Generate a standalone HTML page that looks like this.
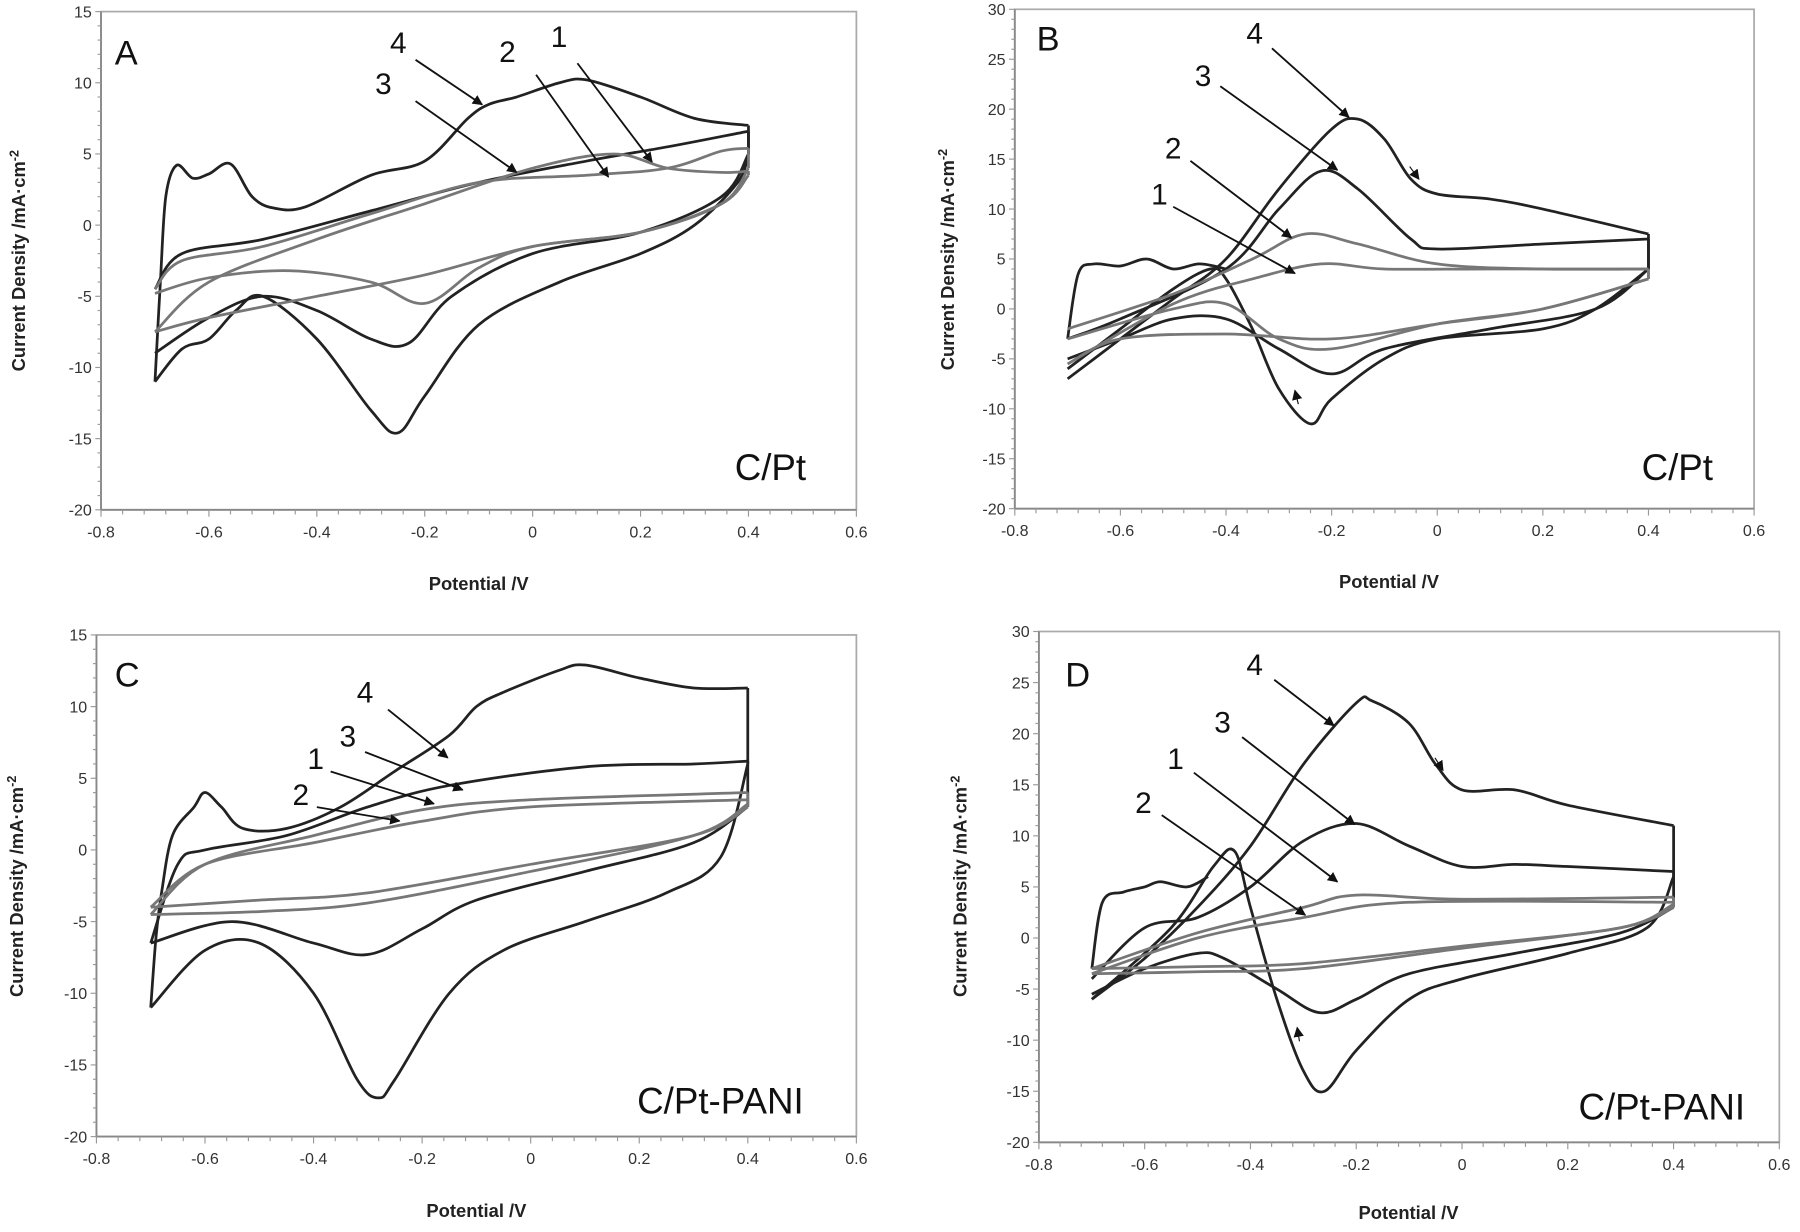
<!DOCTYPE html>
<html><head><meta charset="utf-8">
<style>
html,body{margin:0;padding:0;background:#fff;}
svg{display:block;}
text{font-family:"Liberation Sans","DejaVu Sans",sans-serif;fill:#333;}
.t{font-size:14px;}
.ax{font-size:16px;font-weight:bold;fill:#222;}
.lb{font-size:26px;fill:#111;}
.big{font-size:32px;fill:#111;}
.let{font-size:30px;fill:#111;}
</style></head>
<body>
<svg id="s" width="1800" height="1232" viewBox="0 0 1568 1073" xmlns="http://www.w3.org/2000/svg">
<defs>
<marker id="ah" viewBox="0 0 10 10" refX="9" refY="5" markerWidth="9" markerHeight="9" markerUnits="userSpaceOnUse" orient="auto"><path d="M0,0 L10,5 L0,10 z" fill="#111"/></marker>
</defs>
<g id="root"></g>

<!-- Panel A text -->
<g class="t" text-anchor="end">
<text x="80" y="15">15</text><text x="80" y="77">10</text><text x="80" y="139">5</text><text x="80" y="201">0</text><text x="80" y="263">-5</text><text x="80" y="325">-10</text><text x="80" y="387">-15</text><text x="80" y="449">-20</text>
</g>
<g class="t" text-anchor="middle">
<text x="88" y="468">-0.8</text><text x="182" y="468">-0.6</text><text x="276" y="468">-0.4</text><text x="370" y="468">-0.2</text><text x="464" y="468">0</text><text x="558" y="468">0.2</text><text x="652" y="468">0.4</text><text x="746" y="468">0.6</text>
</g>
<text class="ax" x="417" y="514" text-anchor="middle">Potential /V</text>
<text class="ax" x="22" y="227" text-anchor="middle" transform="rotate(-90 22 227)">Current Density /mA·cm<tspan dy="-6" font-size="11">-2</tspan></text>
<text class="let" x="100" y="56">A</text>
<text class="big" x="640" y="418">C/Pt</text>
<text class="lb" x="347" y="46" text-anchor="middle">4</text>
<text class="lb" x="334" y="82" text-anchor="middle">3</text>
<text class="lb" x="442" y="54" text-anchor="middle">2</text>
<text class="lb" x="487" y="41" text-anchor="middle">1</text>

<!-- Panel B text -->
<g class="t" text-anchor="end">
<text x="876" y="13">30</text><text x="876" y="56.5">25</text><text x="876" y="100">20</text><text x="876" y="143.5">15</text><text x="876" y="187">10</text><text x="876" y="230.5">5</text><text x="876" y="274">0</text><text x="876" y="317.5">-5</text><text x="876" y="361">-10</text><text x="876" y="404.5">-15</text><text x="876" y="448">-20</text>
</g>
<g class="t" text-anchor="middle">
<text x="884" y="467">-0.8</text><text x="976" y="467">-0.6</text><text x="1068" y="467">-0.4</text><text x="1160" y="467">-0.2</text><text x="1252" y="467">0</text><text x="1344" y="467">0.2</text><text x="1436" y="467">0.4</text><text x="1528" y="467">0.6</text>
</g>
<text class="ax" x="1210" y="512" text-anchor="middle">Potential /V</text>
<text class="ax" x="831" y="226" text-anchor="middle" transform="rotate(-90 831 226)">Current Density /mA·cm<tspan dy="-6" font-size="11">-2</tspan></text>
<text class="let" x="903" y="44">B</text>
<text class="big" x="1430" y="418">C/Pt</text>
<text class="lb" x="1093" y="38" text-anchor="middle">4</text>
<text class="lb" x="1048" y="75" text-anchor="middle">3</text>
<text class="lb" x="1022" y="138" text-anchor="middle">2</text>
<text class="lb" x="1010" y="178" text-anchor="middle">1</text>

<!-- Panel C text -->
<g class="t" text-anchor="end">
<text x="76" y="558">15</text><text x="76" y="620.4">10</text><text x="76" y="682.9">5</text><text x="76" y="745.3">0</text><text x="76" y="807.7">-5</text><text x="76" y="870.1">-10</text><text x="76" y="932.6">-15</text><text x="76" y="995">-20</text>
</g>
<g class="t" text-anchor="middle">
<text x="84" y="1014">-0.8</text><text x="178.6" y="1014">-0.6</text><text x="273.1" y="1014">-0.4</text><text x="367.7" y="1014">-0.2</text><text x="462.3" y="1014">0</text><text x="556.9" y="1014">0.2</text><text x="651.4" y="1014">0.4</text><text x="746" y="1014">0.6</text>
</g>
<text class="ax" x="415" y="1060" text-anchor="middle">Potential /V</text>
<text class="ax" x="20" y="772" text-anchor="middle" transform="rotate(-90 20 772)">Current Density /mA·cm<tspan dy="-6" font-size="11">-2</tspan></text>
<text class="let" x="100" y="598">C</text>
<text class="big" x="555" y="970">C/Pt-PANI</text>
<text class="lb" x="318" y="612" text-anchor="middle">4</text>
<text class="lb" x="303" y="650" text-anchor="middle">3</text>
<text class="lb" x="275" y="670" text-anchor="middle">1</text>
<text class="lb" x="262" y="701" text-anchor="middle">2</text>

<!-- Panel D text -->
<g class="t" text-anchor="end">
<text x="897" y="555">30</text><text x="897" y="599.5">25</text><text x="897" y="644">20</text><text x="897" y="688.5">15</text><text x="897" y="733">10</text><text x="897" y="777.5">5</text><text x="897" y="822">0</text><text x="897" y="866.5">-5</text><text x="897" y="911">-10</text><text x="897" y="955.5">-15</text><text x="897" y="1000">-20</text>
</g>
<g class="t" text-anchor="middle">
<text x="905" y="1019">-0.8</text><text x="997.1" y="1019">-0.6</text><text x="1089.3" y="1019">-0.4</text><text x="1181.4" y="1019">-0.2</text><text x="1273.6" y="1019">0</text><text x="1365.7" y="1019">0.2</text><text x="1457.9" y="1019">0.4</text><text x="1550" y="1019">0.6</text>
</g>
<text class="ax" x="1227" y="1062" text-anchor="middle">Potential /V</text>
<text class="ax" x="842" y="772" text-anchor="middle" transform="rotate(-90 842 772)">Current Density /mA·cm<tspan dy="-6" font-size="11">-2</tspan></text>
<text class="let" x="928" y="598">D</text>
<text class="big" x="1375" y="975">C/Pt-PANI</text>
<text class="lb" x="1093" y="588" text-anchor="middle">4</text>
<text class="lb" x="1065" y="638" text-anchor="middle">3</text>
<text class="lb" x="1024" y="670" text-anchor="middle">1</text>
<text class="lb" x="996" y="708" text-anchor="middle">2</text>
</svg>
<script>
const root=document.getElementById('root');
const NS='http://www.w3.org/2000/svg';
function el(t,a){const e=document.createElementNS(NS,t);for(const k in a)e.setAttribute(k,a[k]);root.appendChild(e);return e;}
function crSeg(pts){let d='M'+pts[0][0].toFixed(1)+','+pts[0][1].toFixed(1);
 for(let i=0;i<pts.length-1;i++){const p0=pts[Math.max(0,i-1)],p1=pts[i],p2=pts[i+1],p3=pts[Math.min(pts.length-1,i+2)];
 const c1=[p1[0]+(p2[0]-p0[0])/6,p1[1]+(p2[1]-p0[1])/6],c2=[p2[0]-(p3[0]-p1[0])/6,p2[1]-(p3[1]-p1[1])/6];
 d+=' C'+c1[0].toFixed(1)+','+c1[1].toFixed(1)+' '+c2[0].toFixed(1)+','+c2[1].toFixed(1)+' '+p2[0].toFixed(1)+','+p2[1].toFixed(1);}
 return d;}
function pathFor(data,X,Y){
 let segs=[],cur=[];
 data.forEach((q,i)=>{cur.push([X(q[0]),Y(q[1])]);
  const corner=(Math.abs(q[0]-0.4)<1e-6||Math.abs(q[0]+0.7)<1e-6)&&i>0&&i<data.length-1;
  if(corner){segs.push(cur);cur=[[X(q[0]),Y(q[1])]];}});
 segs.push(cur);
 return segs.filter(s=>s.length>1).map(crSeg).join(' ');}
function panel(P){
 const X=v=>P.x0+(v+0.8)/1.4*(P.x1-P.x0);
 const Y=v=>P.yb-(v-P.ymin)/(P.ymax-P.ymin)*(P.yb-P.yt);
 el('rect',{x:P.x0,y:P.yt,width:P.x1-P.x0,height:P.yb-P.yt,fill:'none',stroke:'#aaa','stroke-width':1.5});
 el('line',{x1:P.x0,y1:P.yt,x2:P.x0,y2:P.yb,stroke:'#888','stroke-width':1.6});
 el('line',{x1:P.x0,y1:P.yb,x2:P.x1,y2:P.yb,stroke:'#888','stroke-width':1.6});
 for(let v=P.ymin;v<=P.ymax;v+=1){const y=Y(v);const maj=(v%5===0);
  el('line',{x1:P.x0-(maj?5:3),y1:y,x2:P.x0,y2:y,stroke:'#999','stroke-width':1});}
 for(let i=0;i<=35;i++){const x=X(-0.8+i*0.04);const maj=(i%5===0);
  el('line',{x1:x,y1:P.yb,x2:x,y2:P.yb+(maj?6:4),stroke:'#999','stroke-width':1});}
 for(const c of P.curves){el('path',{d:pathFor(c.p,X,Y),fill:'none',stroke:c.g?'#777':'#222','stroke-width':2.4,'stroke-linejoin':'round'});}
 for(const a of P.arrows){el('line',{x1:a[0],y1:a[1],x2:a[2],y2:a[3],stroke:'#111','stroke-width':1.6,'marker-end':'url(#ah)'});}
 for(const m of (P.marks||[])){el('line',{x1:m[0],y1:m[1],x2:m[2],y2:m[3],stroke:'#111','stroke-width':1,'marker-end':'url(#ah)'});}
}
panel({x0:88,x1:746,yt:10,yb:444,ymin:-20,ymax:15,
 curves:[
 {p:[[-0.7,-11],[-0.69,-4],[-0.68,2],[-0.66,4.2],[-0.63,3.3],[-0.6,3.6],[-0.56,4.3],[-0.52,2],[-0.48,1.2],[-0.42,1.3],[-0.3,3.5],[-0.2,4.5],[-0.12,7.5],[-0.08,8.5],[-0.03,9],[0.05,10],[0.1,10.2],[0.2,9],[0.3,7.5],[0.4,7],[0.4,5],[0.38,3],[0.3,0],[0.2,-2],[0.05,-4],[-0.1,-7],[-0.2,-12],[-0.25,-14.6],[-0.3,-13],[-0.4,-8],[-0.5,-5],[-0.55,-6],[-0.6,-8],[-0.65,-8.7],[-0.7,-11]]},
 {p:[[-0.7,-4.5],[-0.65,-2],[-0.5,-1],[-0.3,1],[-0.1,3],[0.1,4.5],[0.25,5.5],[0.4,6.6],[0.4,5],[0.35,2],[0.2,-0.5],[0,-2],[-0.15,-5],[-0.23,-8.3],[-0.3,-8],[-0.4,-6],[-0.5,-5],[-0.6,-6.5],[-0.7,-9]]},
 {g:1,p:[[-0.7,-4.5],[-0.65,-2.5],[-0.5,-1.5],[-0.3,0.8],[-0.1,3],[0.1,3.5],[0.25,4],[0.35,5.2],[0.4,5.4],[0.4,4],[0.35,1.5],[0.2,-0.5],[0,-1.5],[-0.1,-3],[-0.2,-5.5],[-0.3,-4],[-0.45,-3.2],[-0.6,-3.7],[-0.7,-4.8]]},
 {g:1,p:[[-0.7,-7.5],[-0.6,-4],[-0.4,-1],[-0.2,1.5],[0,4],[0.15,5],[0.25,4],[0.35,3.7],[0.4,3.8],[0.4,3.5],[0.35,1.5],[0.2,-0.5],[0,-1.5],[-0.2,-3.5],[-0.4,-5],[-0.6,-6.5],[-0.7,-7.5]]}],
 arrows:[[362,52,420,91],[362,88,450,150],[467,65,530,154],[503,55,568,141]]});
panel({x0:884,x1:1528,yt:8,yb:443,ymin:-20,ymax:30,
 curves:[
 {p:[[-0.7,-7],[-0.6,-3],[-0.5,1],[-0.4,5],[-0.3,12],[-0.2,18],[-0.15,19],[-0.1,17],[-0.05,13],[0,11.5],[0.1,11],[0.2,10],[0.4,7.5],[0.4,4],[0.3,0],[0.2,-2],[0,-3],[-0.1,-5],[-0.2,-9],[-0.24,-11.5],[-0.3,-8],[-0.35,-2],[-0.4,3],[-0.43,4],[-0.5,2],[-0.6,-2],[-0.7,-6]]},
 {p:[[-0.7,-3],[-0.68,3.5],[-0.65,4.5],[-0.6,4.3],[-0.55,5],[-0.5,4],[-0.45,4.5],[-0.4,4]]},
 {p:[[-0.7,-3],[-0.6,-1],[-0.4,4],[-0.3,10],[-0.22,13.8],[-0.15,12],[-0.05,7],[0,6],[0.2,6.5],[0.4,7],[0.4,4],[0.3,0],[0.1,-2],[-0.1,-4],[-0.2,-6.5],[-0.3,-4],[-0.4,-1],[-0.5,-1],[-0.6,-3],[-0.7,-5]]},
 {g:1,p:[[-0.7,-2],[-0.5,1.5],[-0.35,5],[-0.25,7.5],[-0.15,6.5],[0,4.5],[0.2,4],[0.4,4],[0.4,3],[0.2,0],[0,-1.5],[-0.2,-4],[-0.3,-3],[-0.4,0.5],[-0.5,0],[-0.7,-3]]},
 {g:1,p:[[-0.7,-5.5],[-0.5,0.5],[-0.35,3],[-0.22,4.5],[-0.1,4],[0.1,4],[0.4,4],[0.4,3],[0.2,0],[0,-1.5],[-0.2,-3],[-0.4,-2.5],[-0.6,-3],[-0.7,-5.5]]}],
 arrows:[[1108,42,1175,102],[1063,75,1165,148],[1037,140,1125,207],[1022,180,1128,238]],
 marks:[[1228,145,1236,156],[1131,352,1128,340]]});
panel({x0:84,x1:746,yt:553,yb:990,ymin:-20,ymax:15,
 curves:[
 {p:[[-0.7,-11],[-0.69,-6],[-0.68,-3],[-0.66,1],[-0.62,3],[-0.6,4],[-0.57,3],[-0.53,1.5],[-0.45,1.5],[-0.35,3],[-0.25,5.5],[-0.15,8],[-0.1,10],[-0.05,11],[0.05,12.5],[0.1,12.9],[0.2,12],[0.3,11.3],[0.4,11.3],[0.4,6],[0.35,-0.5],[0.25,-3],[0.1,-5],[-0.05,-7],[-0.15,-10],[-0.25,-16],[-0.28,-17.3],[-0.32,-16],[-0.4,-10],[-0.5,-6.5],[-0.6,-7],[-0.7,-11]]},
 {p:[[-0.7,-6.5],[-0.65,-1],[-0.6,0],[-0.45,1],[-0.3,3],[-0.15,4.5],[0.1,5.8],[0.3,6],[0.4,6.2],[0.4,3],[0.3,0.5],[0.1,-1.5],[-0.1,-3.5],[-0.2,-5.5],[-0.3,-7.3],[-0.4,-6.5],[-0.55,-5],[-0.7,-6.5]]},
 {g:1,p:[[-0.7,-4],[-0.6,-1],[-0.4,0.5],[-0.2,2],[0,3],[0.4,3.5],[0.4,3],[0.3,1],[0,-1],[-0.3,-3],[-0.5,-3.5],[-0.7,-4]]},
 {g:1,p:[[-0.7,-4.5],[-0.6,-1],[-0.4,1],[-0.2,2.8],[0,3.5],[0.4,4],[0.4,3.2],[0.3,1],[0,-1.5],[-0.3,-3.7],[-0.5,-4.3],[-0.7,-4.5]]}],
 arrows:[[338,618,390,660],[318,655,403,688],[288,672,378,700],[276,703,348,715]]});
panel({x0:905,x1:1550,yt:550,yb:995,ymin:-20,ymax:30,
 curves:[
 {p:[[-0.7,-6],[-0.6,-2],[-0.5,3],[-0.4,9],[-0.3,17],[-0.2,23],[-0.17,23.2],[-0.1,21],[-0.05,17],[0,14.5],[0.1,14.5],[0.2,13],[0.4,11],[0.4,6],[0.35,1],[0.2,-1.5],[0,-4],[-0.1,-6],[-0.2,-11],[-0.26,-15],[-0.3,-13],[-0.35,-6],[-0.4,3],[-0.43,8.5],[-0.47,7],[-0.55,1],[-0.7,-6]]},
 {p:[[-0.7,-3],[-0.68,3.5],[-0.64,4.5],[-0.6,5],[-0.57,5.5],[-0.52,5],[-0.48,6]]},
 {p:[[-0.7,-4],[-0.6,1],[-0.5,2],[-0.4,5],[-0.3,9.5],[-0.2,11.2],[-0.1,9],[0,7],[0.1,7.2],[0.2,7],[0.4,6.5],[0.4,3],[0.3,0.5],[0.1,-1.5],[-0.1,-3.5],[-0.2,-6],[-0.27,-7.3],[-0.35,-5],[-0.45,-2],[-0.5,-1.5],[-0.6,-3],[-0.7,-5.5]]},
 {g:1,p:[[-0.7,-3.5],[-0.5,0],[-0.3,2],[-0.1,3.5],[0.4,3.5],[0.4,3],[0.3,1],[0,-1],[-0.3,-3],[-0.5,-3.3],[-0.7,-3.5]]},
 {g:1,p:[[-0.7,-3],[-0.5,0.5],[-0.3,3],[-0.2,4.2],[0,3.8],[0.4,4],[0.4,3.3],[0.3,1],[0,-0.8],[-0.3,-2.5],[-0.5,-2.8],[-0.7,-3]]}],
 arrows:[[1110,592,1162,632],[1082,642,1180,718],[1040,673,1165,768],[1012,710,1137,797]],
 marks:[[1250,660,1257,671],[1132,907,1130,895]]});
</script>
</body></html>
